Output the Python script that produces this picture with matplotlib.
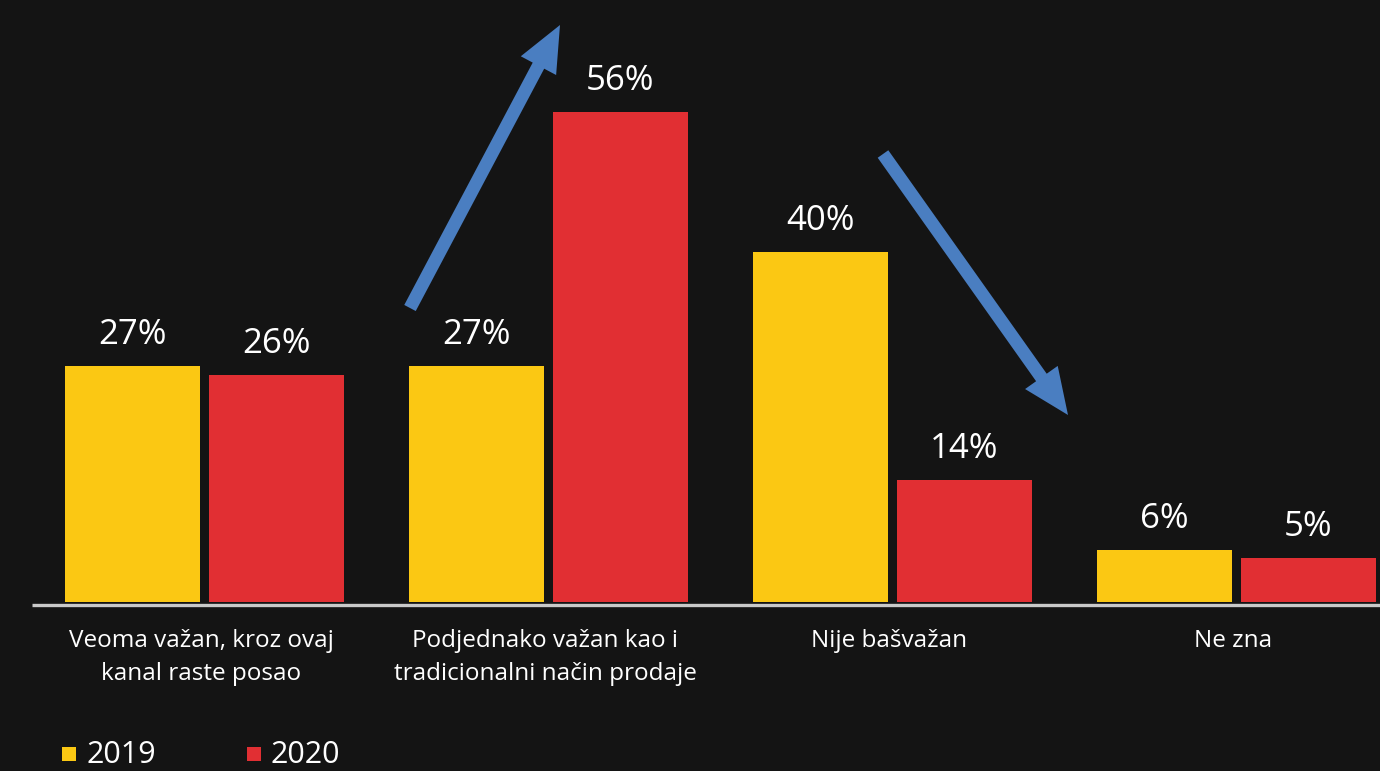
import numpy as np
import matplotlib.pyplot as plt
import matplotlib.patches as mpatches

# ── Data ──────────────────────────────────────────────────────────────────────
categories = [
    "Veoma važan, kroz ovaj\nkanal raste posao",
    "Podjednako važan kao i\ntradicionalni način prodaje",
    "Nije bašvažan",
    "Ne zna",
]
years = ["2019", "2020"]
vals_2019 = [27, 27, 40, 6]
vals_2020 = [26, 56, 14, 5]

BG = "#141414"
YELLOW = "#FBC813"
RED = "#E12F33"
BLUE = "#4A7EC1"
FONT = "Open Sans"

W, H = 1380, 771
fig = plt.figure(figsize=(W / 100, H / 100), dpi=100)
fig.patch.set_facecolor(BG)

# main data axes spans the whole figure; 0% sits at pixel row 602
PX_PER_PCT = 8.75
GROUP_PX = 344
X0_PX = 204.5
ax = fig.add_axes([0, 0, 1, 1])
ax.set_facecolor(BG)
ax.set_xlim(-X0_PX / GROUP_PX, (W - X0_PX) / GROUP_PX)
ax.set_ylim(-(H - 602) / PX_PER_PCT, 602 / PX_PER_PCT)
ax.axis("off")

x = np.arange(len(categories))
off = 72 / GROUP_PX
bw = 135 / GROUP_PX
pad = 22 / PX_PER_PCT

for series, col, sign in [(vals_2019, YELLOW, -1), (vals_2020, RED, 1)]:
    ax.bar(x + sign * off, series, width=bw, color=col, zorder=2)
    for xi, v in zip(x + sign * off, series):
        ax.text(xi, v + pad, f"{v}%", ha="center", va="baseline",
                fontsize=25, color="white", family=FONT)

for xi, lab in zip(x, categories):
    ax.text(xi - 0.01, -27 / PX_PER_PCT, lab, ha="center", va="top",
            fontsize=17.5, color="white", family=FONT, linespacing=1.5)

# ── Overlay in pixel units: baseline, arrows, legend ─────────────────────────
ov = fig.add_axes([0, 0, 1, 1])
ov.set_xlim(0, W)
ov.set_ylim(H, 0)
ov.axis("off")
ov.patch.set_alpha(0)

ov.plot([32, W], [605, 605], color="#C9C9C9", lw=2.4, solid_capstyle="butt")

for (x1, y1, x2, y2) in [(410, 308, 560, 25), (883, 154, 1068, 415)]:
    ov.add_patch(mpatches.FancyArrow(
        x1, y1, x2 - x1, y2 - y1, width=13, head_width=40, head_length=46,
        length_includes_head=True, color=BLUE, lw=0, zorder=5))

for lx, col, yr in [(62, YELLOW, years[0]), (247, RED, years[1])]:
    ov.add_patch(mpatches.Rectangle((lx, 747), 14, 14, color=col, lw=0))
    ov.text(lx + 24, 770, yr, ha="left", va="bottom",
            fontsize=22, color="white", family=FONT)

fig.savefig("out.png", dpi=100, facecolor=BG)
